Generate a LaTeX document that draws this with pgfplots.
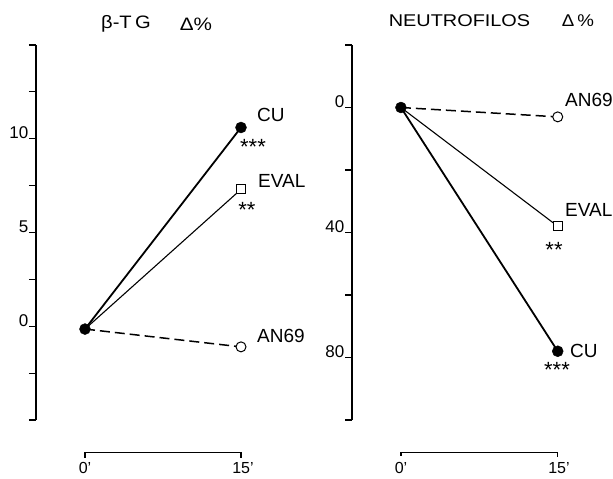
\documentclass[border=0pt]{standalone}
\usepackage{pgfplots}
\pgfplotsset{compat=1.18}
\usepackage{fontspec}
\setmainfont{Liberation Sans}
\begin{document}
\begin{tikzpicture}[x=1pt,y=1pt]
\useasboundingbox (0,0) rectangle (613,479);
\pgfplotsset{
  panel/.style={
    scale only axis, clip=false,
    axis y line*=left, axis x line=none,
    y axis line style={-, line width=1.6pt},
    tick align=outside, major tick length=7pt,
    every tick/.style={black, line width=1.2pt},
    /pgf/number format/assume math mode=true,
    yticklabel style={font=\fontsize{17}{19}\selectfont, anchor=base east, inner sep=0pt, xshift=-0.5pt},
  }
}
% ---------- left panel: beta-TG ----------
\begin{axis}[panel,
  at={(36pt,59pt)}, anchor=south west,
  width=257pt, height=375pt,
  xmin=-4.71, xmax=20, ymin=-5, ymax=15,
  ytick={-5,-2.5,0,2.5,5,7.5,10,12.5,15},
  yticklabels={,,0,,5,,10,,},
]
\addplot[black, line width=1.8pt] coordinates {(0,-0.15) (15,10.6)};
\addplot[black, line width=1.1pt] coordinates {(0,-0.15) (15,7.3)};
\addplot[black, line width=1.5pt, dash pattern=on 10pt off 5pt] coordinates {(0,-0.15) (15,-1.1)};
\addplot[only marks, mark=*, mark size=5.5pt, black] coordinates {(0,-0.15) (15,10.6)};
\addplot[only marks, mark=square*, mark size=4.5pt, black, fill=white, line width=1pt] coordinates {(15,7.3)};
\addplot[only marks, mark=*, mark size=5pt, black, fill=white, line width=1pt] coordinates {(15,-1.1)};
\draw[line width=1.3pt] (axis cs:0,-7.0) |- (axis cs:15,-6.74) -- (axis cs:15,-7.0);
\end{axis}
% ---------- right panel: neutrofilos ----------
\begin{axis}[panel,
  at={(352pt,59pt)}, anchor=south west,
  width=258pt, height=375pt,
  xmin=-4.68, xmax=20, ymin=-20, ymax=100, y dir=reverse,
  ytick={-20,0,20,40,60,80,100},
  yticklabels={,0,,40,,80,},
]
\addplot[black, line width=1.8pt] coordinates {(0,0) (15,78)};
\addplot[black, line width=1.1pt] coordinates {(0,0) (15,38)};
\addplot[black, line width=1.5pt, dash pattern=on 10pt off 5pt] coordinates {(0,0) (15,3)};
\addplot[only marks, mark=*, mark size=5.5pt, black] coordinates {(0,0) (15,78)};
\addplot[only marks, mark=square*, mark size=4.5pt, black, fill=white, line width=1pt] coordinates {(15,38)};
\addplot[only marks, mark=*, mark size=5pt, black, fill=white, line width=1pt] coordinates {(15,3)};
\draw[line width=1.3pt] (axis cs:0,111.4) |- (axis cs:15,110.4) -- (axis cs:15,111.8);
\end{axis}
% ---------- text ----------
\begin{scope}[every node/.style={inner sep=0pt}]
\node[font=\fontsize{18}{20}\selectfont, xscale=1.12] at (126,455) {β-T\,G};
\node[font=\fontsize{18}{20}\selectfont, xscale=1.15] at (196,455) {Δ\%};
\node[font=\fontsize{17}{19}\selectfont, xscale=1.17] at (459.5,458) {NEUTROFILOS};
\node[font=\fontsize{17}{19}\selectfont, xscale=1.1] at (578,458) {Δ\,\%};
\node[font=\fontsize{19}{21}\selectfont, anchor=west] at (257,364) {CU};
\node[font=\fontsize{22}{24}\selectfont] at (253,332) {***};
\node[font=\fontsize{19}{21}\selectfont, anchor=west] at (258,298) {EVAL};
\node[font=\fontsize{22}{24}\selectfont] at (247,269) {**};
\node[font=\fontsize{19}{21}\selectfont, anchor=west] at (257,143) {AN69};
\node[font=\fontsize{19}{21}\selectfont, anchor=west] at (565,379) {AN69};
\node[font=\fontsize{19}{21}\selectfont, anchor=west] at (565,269) {EVAL};
\node[font=\fontsize{22}{24}\selectfont] at (554,229) {**};
\node[font=\fontsize{19}{21}\selectfont, anchor=west] at (570,128) {CU};
\node[font=\fontsize{22}{24}\selectfont] at (557,109) {***};
\node[font=\fontsize{16}{18}\selectfont, anchor=north] at (85,17) {0\char"27};
\node[font=\fontsize{16}{18}\selectfont, anchor=north] at (243,17) {15\char"27};
\node[font=\fontsize{16}{18}\selectfont, anchor=north] at (401,17) {0\char"27};
\node[font=\fontsize{16}{18}\selectfont, anchor=north] at (559,17) {15\char"27};
\end{scope}
\end{tikzpicture}
\end{document}
